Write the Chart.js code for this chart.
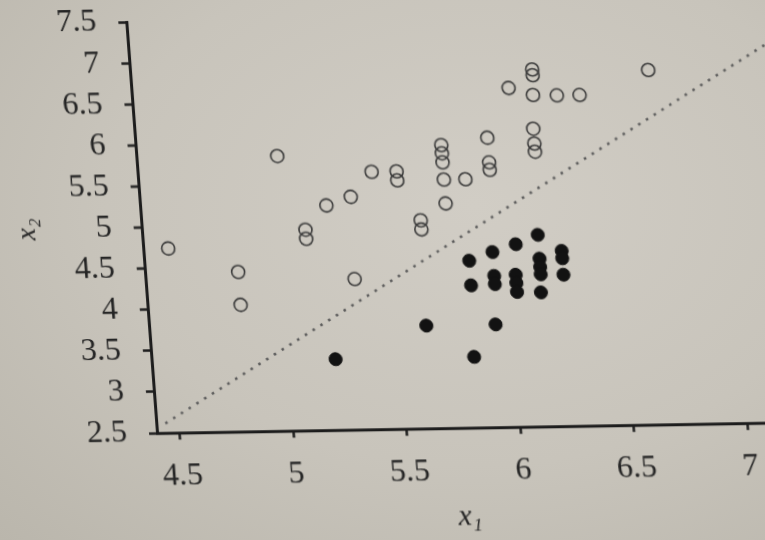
<!DOCTYPE html>
<html>
<head>
<meta charset="utf-8">
<title>Perceptron data</title>
<script src="https://cdn.jsdelivr.net/npm/chart.js@4/dist/chart.umd.min.js"></script>
<style>
  html, body {
    margin: 0;
    width: 765px;
    height: 540px;
    overflow: hidden;
    background: radial-gradient(ellipse at 62% 38%, #d1cdc5 0%, #c8c4bb 55%, #bab6ac 100%);
  }
  #plot {
    position: absolute;
    left: 0;
    top: 0;
    /* the page was photographed at a slight angle */
    transform-origin: 157px 433px;
    transform: matrix(1, -0.0169, 0.0747, 1, 0, 0);
  }
</style>
</head>
<body>
<canvas id="plot" width="816" height="540"></canvas>
<script>
// Data
const openX = [4.51, 4.81, 4.81, 5.02, 5.12, 5.12, 5.22, 5.33, 5.32, 5.43, 5.54, 5.54, 5.63, 5.63,
  5.745, 5.745, 5.745, 5.745, 5.745, 5.84, 5.95, 5.95, 5.95, 6.06,
  6.17, 6.17, 6.165, 6.155, 6.155, 6.155, 6.27, 6.37, 6.68];
const openY = [4.74, 4.44, 4.04, 5.84, 4.94, 4.83, 5.23, 5.33, 4.33, 5.63, 5.63, 5.52, 5.03, 4.92,
  5.94, 5.84, 5.73, 5.52, 5.23, 5.52, 6.02, 5.72, 5.63, 6.62,
  6.84, 6.77, 6.53, 6.12, 5.94, 5.84, 6.52, 6.52, 6.81];

const filledX = [5.83, 5.83, 5.935, 5.935, 5.935, 6.04, 6.03, 6.03, 6.03,
  6.14, 6.14, 6.14, 6.14, 6.135, 6.24, 6.24, 6.24, 5.62, 5.925, 5.21, 5.82];
const filledY = [4.53, 4.23, 4.63, 4.34, 4.24, 4.72, 4.35, 4.25, 4.14,
  4.83, 4.54, 4.44, 4.35, 4.13, 4.63, 4.54, 4.34, 3.75, 3.75, 3.36, 3.36];

// dotted separating line
const boundaryX = [4.44, 7.25];
const boundaryY = [2.615, 7.17];

const xTicks = [4.5, 5, 5.5, 6, 6.5, 7];
const yTicks = [2.5, 3, 3.5, 4, 4.5, 5, 5.5, 6, 6.5, 7, 7.5];

const ink = '#242424';
const serif = "'Liberation Serif', 'DejaVu Serif', serif";

function toPoints(xs, ys) {
    return xs.map((x, i) => ({ x: x, y: ys[i] }));
}

// fixed axis boxes so the plot area lands where the figure has it
function fixY(scale) {
    scale.width = 157;
    scale.paddingTop = 0;
    scale.paddingBottom = 0;
}
function fixX(scale) {
    scale.height = 107;
    scale.paddingLeft = 0;
    scale.paddingRight = 0;
}

const ctx = document.getElementById('plot').getContext('2d');

new Chart(ctx, {
    type: 'scatter',
    data: {
        datasets: [
            {
                type: 'line',
                data: toPoints(boundaryX, boundaryY),
                borderColor: '#595959',
                borderWidth: 2.5,
                borderDash: [2.6, 6.8],
                pointRadius: 0,
                fill: false,
                clip: false
            },
            {
                data: toPoints(openX, openY),
                pointRadius: 6.5,
                borderWidth: 1.6,
                borderColor: '#383838',
                backgroundColor: 'rgba(0,0,0,0)'
            },
            {
                data: toPoints(filledX, filledY),
                pointRadius: 6.5,
                borderWidth: 1,
                borderColor: '#121212',
                backgroundColor: '#121212'
            }
        ]
    },
    options: {
        responsive: false,
        devicePixelRatio: 1,
        animation: false,
        layout: { padding: { top: 22, right: 46, bottom: 0, left: 0 } },
        plugins: {
            legend: { display: false },
            tooltip: { enabled: false }
        },
        scales: {
            x: {
                type: 'linear',
                min: 4.4,
                max: 7.1,
                afterBuildTicks: (scale) => { scale.ticks = xTicks.map(v => ({ value: v })); },
                afterFit: fixX,
                border: { color: '#1c1c1c', width: 3 },
                grid: { drawOnChartArea: false, tickLength: 7, tickWidth: 2.5, tickColor: '#1c1c1c' },
                ticks: {
                    color: ink,
                    padding: 17,
                    autoSkip: false,
                    maxRotation: 0,
                    callback: (v) => String(v),
                    font: { family: serif, size: 32 }
                },
                title: {
                    display: true,
                    text: 'x₁',
                    color: ink,
                    padding: { top: 0, bottom: 0 },
                    font: { family: serif, size: 30, style: 'italic' }
                }
            },
            y: {
                type: 'linear',
                min: 2.5,
                max: 7.5,
                afterBuildTicks: (scale) => { scale.ticks = yTicks.map(v => ({ value: v })); },
                afterFit: fixY,
                border: { color: '#1c1c1c', width: 3 },
                grid: { drawOnChartArea: false, tickLength: 8, tickWidth: 2.5, tickColor: '#1c1c1c' },
                ticks: {
                    color: ink,
                    padding: 22,
                    autoSkip: false,
                    callback: (v) => String(v),
                    font: { family: serif, size: 32 }
                },
                title: {
                    display: true,
                    text: 'x₂',
                    color: ink,
                    padding: { top: 26, bottom: 0 },
                    font: { family: serif, size: 28, style: 'italic' }
                }
            }
        }
    }
});
</script>
</body>
</html>
